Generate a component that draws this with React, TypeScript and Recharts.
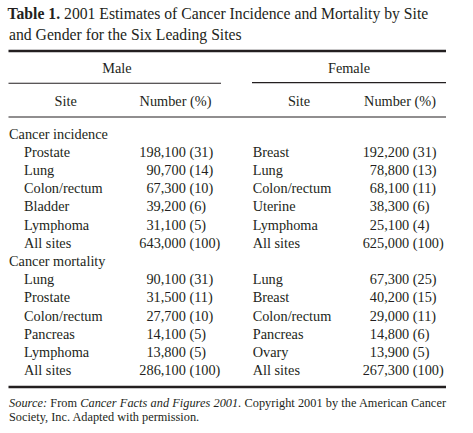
import React from 'react';
import { ScatterChart, Scatter, XAxis, YAxis, ReferenceLine } from 'recharts';

// ---------- data ----------
const sectionLabels = ['Cancer incidence', 'Cancer mortality'];
const genderLabels = ['Male', 'Female'];
const columnLabels = ['Site', 'Number (%)'];

const maleIncidenceSites = ['Prostate', 'Lung', 'Colon/rectum', 'Bladder', 'Lymphoma', 'All sites'];
const maleIncidenceNumbers = [198100, 90700, 67300, 39200, 31100, 643000];
const maleIncidencePct = [31, 14, 10, 6, 5, 100];

const femaleIncidenceSites = ['Breast', 'Lung', 'Colon/rectum', 'Uterine', 'Lymphoma', 'All sites'];
const femaleIncidenceNumbers = [192200, 78800, 68100, 38300, 25100, 625000];
const femaleIncidencePct = [31, 13, 11, 6, 4, 100];

const maleMortalitySites = ['Lung', 'Prostate', 'Colon/rectum', 'Pancreas', 'Lymphoma', 'All sites'];
const maleMortalityNumbers = [90100, 31500, 27700, 14100, 13800, 286100];
const maleMortalityPct = [31, 11, 10, 5, 5, 100];

const femaleMortalitySites = ['Lung', 'Breast', 'Colon/rectum', 'Pancreas', 'Ovary', 'All sites'];
const femaleMortalityNumbers = [67300, 40200, 29000, 14800, 13900, 267300];
const femaleMortalityPct = [25, 15, 11, 6, 5, 100];

const titleBold = 'Table 1.';
const titleLine1 = ' 2001 Estimates of Cancer Incidence and Mortality by Site';
const titleLine2 = 'and Gender for the Six Leading Sites';
const sourceLine2 = 'Society, Inc. Adapted with permission.';

// ---------- layout ----------
const W = 473;
const H = 433;
const ROW0 = 138.5; // baseline of first body row (px)
const STEP = 18.2; // row pitch (px)
const rowOf = (px: number) => (px - ROW0) / STEP;
const Y_DOMAIN: [number, number] = [rowOf(0), rowOf(H)];

const INK = '#231f20';
const FONT = '"Liberation Serif", "Times New Roman", serif';
const BODY = 14.3;

const X_SECTION = 9;
const X_SITE = [24, 252.7];
const X_NUM_END = [185.8, 409.2];
const X_PCT = [189.4, 412.8];
const X_GENDER = [117, 349];
const X_COLHEAD = [[65.7, 175.5], [299, 400]];
const LEFT = 8.5;
const RIGHT = 446;

const fmt = (n: number) => String(n).replace(/\B(?=(\d{3})+(?!\d))/g, ',');

type Cell = { x: number; y: number; text: string };

const sections = [
  {
    label: sectionLabels[0],
    male: [maleIncidenceSites, maleIncidenceNumbers, maleIncidencePct] as const,
    female: [femaleIncidenceSites, femaleIncidenceNumbers, femaleIncidencePct] as const,
  },
  {
    label: sectionLabels[1],
    male: [maleMortalitySites, maleMortalityNumbers, maleMortalityPct] as const,
    female: [femaleMortalitySites, femaleMortalityNumbers, femaleMortalityPct] as const,
  },
];

const sectionCells: Cell[] = [];
const siteCells: Cell[] = [];
const numCells: Cell[] = [];
const pctCells: Cell[] = [];
sections.forEach((s, si) => {
  const base = si * 7;
  sectionCells.push({ x: X_SECTION, y: base, text: s.label });
  [s.male, s.female].forEach((g, gi) => {
    const [sites, nums, pcts] = g;
    sites.forEach((site, i) => {
      siteCells.push({ x: X_SITE[gi], y: base + 1 + i, text: site });
      numCells.push({ x: X_NUM_END[gi], y: base + 1 + i, text: fmt(nums[i]) });
      pctCells.push({ x: X_PCT[gi], y: base + 1 + i, text: `(${pcts[i]})` });
    });
  });
});

const headerCells: Cell[] = [
  ...genderLabels.map((g, gi) => ({ x: X_GENDER[gi], y: rowOf(72.5), text: g })),
  ...genderLabels.flatMap((_, gi) =>
    columnLabels.map((c, ci) => ({ x: X_COLHEAD[gi][ci], y: rowOf(106), text: c }))
  ),
];

const titleCells = [
  { x: 7.5, y: rowOf(19.2), text: 'l1' },
  { x: 9, y: rowOf(39.5), text: 'l2' },
];
const sourceCells = [
  { x: 9, y: rowOf(406.5), text: 's1' },
  { x: 9, y: rowOf(420.5), text: 's2' },
];

const makeText = (anchor: 'start' | 'middle' | 'end', size = BODY) => (props: any) => {
  const { cx, cy, payload } = props;
  return (
    <text x={cx} y={cy} textAnchor={anchor} fontSize={size} fontFamily={FONT} fill={INK}>
      {payload.text}
    </text>
  );
};

const titleShape = (props: any) => {
  const { cx, cy, payload } = props;
  if (payload.text === 'l1') {
    return (
      <text x={cx} y={cy} fontSize={15.7} fontFamily={FONT} fill={INK}>
        <tspan fontWeight="bold">{titleBold}</tspan>
        <tspan>{titleLine1}</tspan>
      </text>
    );
  }
  return (
    <text x={cx} y={cy} fontSize={15.7} fontFamily={FONT} fill={INK}>
      {titleLine2}
    </text>
  );
};

const sourceShape = (props: any) => {
  const { cx, cy, payload } = props;
  if (payload.text === 's1') {
    return (
      <text x={cx} y={cy} fontSize={12.3} fontFamily={FONT} fill={INK} textLength={RIGHT - 9} lengthAdjust="spacing">
        <tspan fontStyle="italic">Source:</tspan>
        <tspan> From </tspan>
        <tspan fontStyle="italic">Cancer Facts and Figures 2001.</tspan>
        <tspan> Copyright 2001 by the American Cancer</tspan>
      </text>
    );
  }
  return (
    <text x={cx} y={cy} fontSize={12.3} fontFamily={FONT} fill={INK}>
      {sourceLine2}
    </text>
  );
};

const rules = [
  { x1: LEFT, x2: RIGHT, y: rowOf(51), w: 2.4 },
  { x1: LEFT, x2: 221, y: rowOf(83.3), w: 1.1 },
  { x1: 252, x2: RIGHT, y: rowOf(82.6), w: 1.1 },
  { x1: LEFT, x2: RIGHT, y: rowOf(117), w: 1.2 },
  { x1: LEFT, x2: RIGHT, y: rowOf(387), w: 2.6 },
];

export default function App() {
  return (
    <div style={{ position: 'absolute', left: 0, top: 0, background: '#fff' }}>
      <ScatterChart width={W} height={H} margin={{ top: 0, right: 0, bottom: 0, left: 0 }}>
        <XAxis type="number" dataKey="x" domain={[0, W]} allowDataOverflow hide />
        <YAxis type="number" dataKey="y" domain={Y_DOMAIN} allowDataOverflow reversed hide />
        {rules.map((r, i) => (
          <ReferenceLine
            key={i}
            segment={[{ x: r.x1, y: r.y }, { x: r.x2, y: r.y }]}
            stroke={INK}
            strokeWidth={r.w}
            ifOverflow="visible"
          />
        ))}
        <Scatter data={titleCells} shape={titleShape} isAnimationActive={false} />
        <Scatter data={headerCells} shape={makeText('middle')} isAnimationActive={false} />
        <Scatter data={sectionCells} shape={makeText('start')} isAnimationActive={false} />
        <Scatter data={siteCells} shape={makeText('start')} isAnimationActive={false} />
        <Scatter data={numCells} shape={makeText('end')} isAnimationActive={false} />
        <Scatter data={pctCells} shape={makeText('start')} isAnimationActive={false} />
        <Scatter data={sourceCells} shape={sourceShape} isAnimationActive={false} />
      </ScatterChart>
    </div>
  );
}
